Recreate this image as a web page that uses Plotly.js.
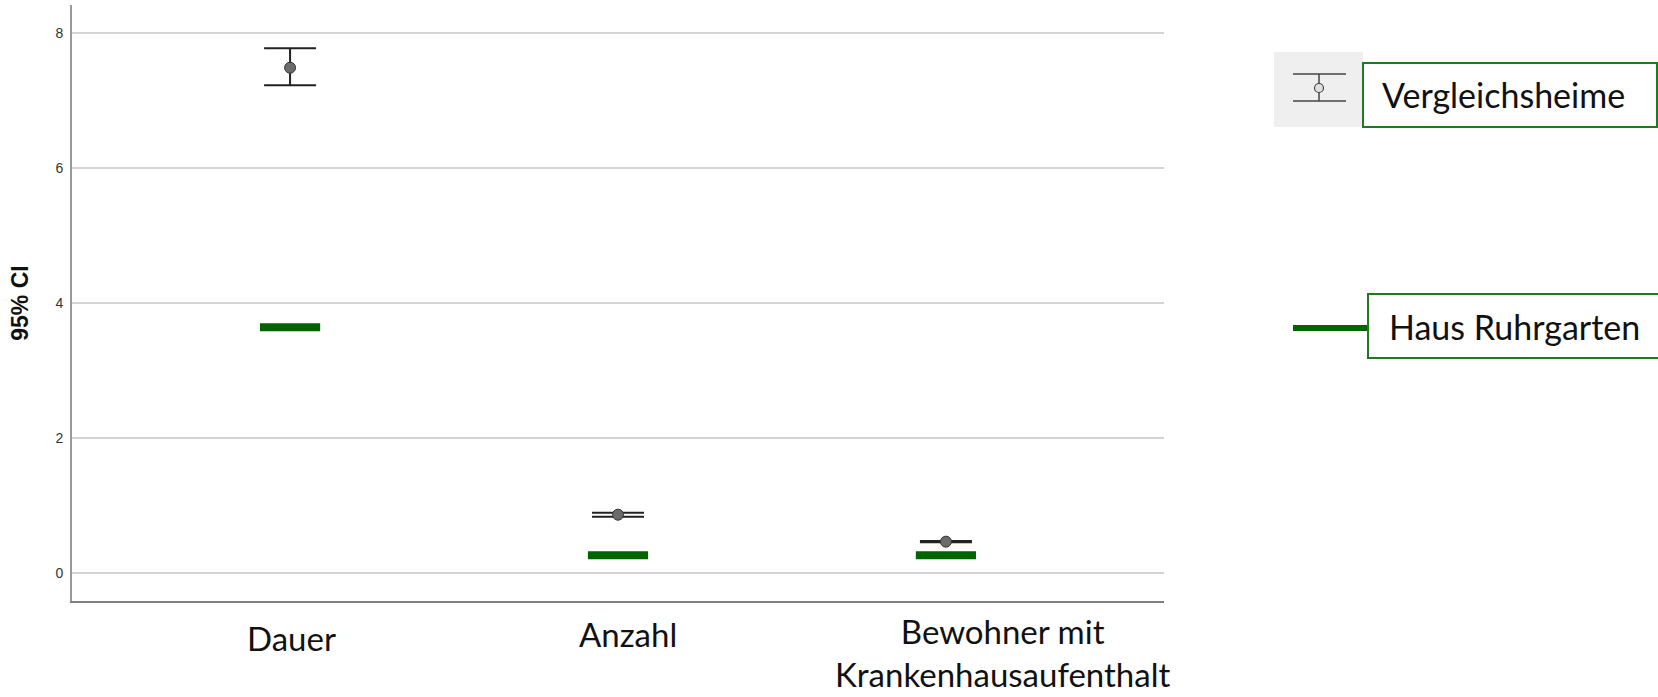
<!DOCTYPE html>
<html>
<head>
<meta charset="utf-8">
<script src="https://cdn.plot.ly/plotly-3.0.1.min.js"></script>
<style>
  html, body { margin: 0; padding: 0; background: #fff; }
  #chart { width: 1658px; height: 697px; }
</style>
</head>
<body>
<div id="chart"></div>
<script>
// ---- data ----
const categories = ['Dauer', 'Anzahl', 'Bewohner mit<br>Krankenhausaufenthalt'];
const seriesNames = ['Vergleichsheime', 'Haus Ruhrgarten'];
const vglMean  = [7.49, 0.86, 0.46];
const vglLower = [7.23, 0.83, 0.45];
const vglUpper = [7.78, 0.89, 0.47];
const ruhrValues = [3.64, 0.26, 0.26];
const yTickVals = [0, 2, 4, 6, 8];

// ---- layout geometry (pixels) ----
const W = 1658, H = 697;
const L = 72, R = 1164, T = 5, B = 601;
const px2x = p => (p - L) / (R - L);
const py2y = p => (B - p) / (B - T);

const xIdx = categories.map((c, i) => i);
const green = '#006400';
const boxGreen = '#1f7a1f';
const labelFont = 'Lato, "Open Sans", sans-serif';

const traces = [
  {
    type: 'scatter', mode: 'markers', name: seriesNames[1],
    x: xIdx, y: ruhrValues,
    marker: { symbol: 'line-ew', size: 43, color: green, line: { color: green, width: 8 } },
    hoverinfo: 'y', showlegend: false
  },
  {
    type: 'scatter', mode: 'markers', name: seriesNames[0],
    x: xIdx, y: vglMean,
    error_y: {
      type: 'data', symmetric: false,
      array: vglUpper.map((u, i) => u - vglMean[i]),
      arrayminus: vglMean.map((m, i) => m - vglLower[i]),
      color: '#222', thickness: 2, width: 26
    },
    marker: { symbol: 'circle', size: 11, color: '#6b6b6b', line: { color: '#333', width: 1 } },
    hoverinfo: 'y', showlegend: false
  }
];

// x category labels (positioned like the reference text boxes)
const labelPos = [
  { px: 291, py: 638 },
  { px: 628, py: 634 },
  { px: 1002, py: 652 }
];
const annotations = categories.map((c, i) => ({
  xref: 'paper', yref: 'paper',
  x: px2x(labelPos[i].px), y: py2y(labelPos[i].py),
  xanchor: 'center', yanchor: 'middle', borderpad: 0,
  text: c, showarrow: false, align: 'center',
  font: { family: labelFont, size: 33, color: '#111' }
}));

// legend texts
annotations.push({
  xref: 'paper', yref: 'paper', x: px2x(1380), y: py2y(95),
  xanchor: 'left', yanchor: 'middle', text: seriesNames[0], showarrow: false,
  font: { family: labelFont, size: 34, color: '#111' }
});
annotations.push({
  xref: 'paper', yref: 'paper', x: px2x(1387), y: py2y(326),
  xanchor: 'left', yanchor: 'middle', text: seriesNames[1], showarrow: false,
  font: { family: labelFont, size: 34, color: '#111' }
});

const P = (x0, y0, x1, y1) => ({ xref: 'paper', yref: 'paper', x0: px2x(x0), x1: px2x(x1), y0: py2y(y0), y1: py2y(y1) });
const shapes = [
  Object.assign({ type: 'rect', fillcolor: '#efefef', line: { width: 0 } }, P(1274, 52, 1363, 127)),
  Object.assign({ type: 'line', line: { color: '#444', width: 1.5 } }, P(1293, 74, 1346, 74)),
  Object.assign({ type: 'line', line: { color: '#444', width: 1.5 } }, P(1293, 101, 1346, 101)),
  Object.assign({ type: 'line', line: { color: '#444', width: 1.5 } }, P(1319, 74, 1319, 101)),
  Object.assign({ type: 'circle', fillcolor: '#e0e0e0', line: { color: '#444', width: 1.2 } }, P(1314.5, 83.5, 1323.5, 92.5)),
  Object.assign({ type: 'rect', fillcolor: '#fff', line: { color: boxGreen, width: 2 } }, P(1363, 63, 1657, 127)),
  Object.assign({ type: 'line', line: { color: green, width: 6 } }, P(1293, 328, 1368, 328)),
  Object.assign({ type: 'rect', fillcolor: '#fff', line: { color: boxGreen, width: 2 } }, P(1368, 294, 1720, 358))
];

const layout = {
  width: W, height: H,
  margin: { l: L, r: W - R, t: T, b: H - B, pad: 0 },
  paper_bgcolor: '#fff', plot_bgcolor: '#fff',
  showlegend: false,
  xaxis: {
    type: 'linear', range: [-0.665, 2.665],
    showgrid: false, zeroline: false, showticklabels: false, ticks: '',
    showline: true, linecolor: '#808080', linewidth: 2, fixedrange: true
  },
  yaxis: {
    range: [-0.42, 8.42],
    tickvals: yTickVals, ticktext: yTickVals.map(String),
    showgrid: true, gridcolor: '#d4d4d4', gridwidth: 2,
    zeroline: false, ticks: '', ticklabelstandoff: 4,
    tickfont: { family: '"Liberation Sans", Arial, sans-serif', size: 14, color: '#333' },
    showline: true, linecolor: '#999', linewidth: 2,
    title: { text: '95% CI', standoff: 20, font: { family: '"Liberation Sans", Arial, sans-serif', size: 23, weight: 'bold', color: '#111' } },
    automargin: false, fixedrange: true
  },
  shapes: shapes,
  annotations: annotations
};

Plotly.newPlot('chart', traces, layout, { displayModeBar: false, staticPlot: true });
</script>
</body>
</html>
